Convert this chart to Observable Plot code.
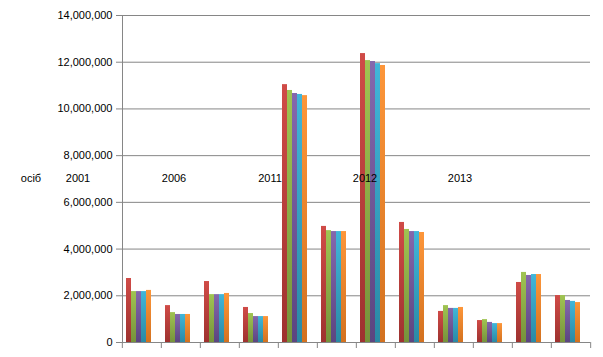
<!DOCTYPE html>
<html>
<head>
<meta charset="utf-8">
<script src="https://cdn.jsdelivr.net/npm/d3@7"></script>
<script src="https://cdn.jsdelivr.net/npm/@observablehq/plot@0.6"></script>
<style>
  html, body { margin: 0; padding: 0; background: #fff; }
  #wrap { position: relative; width: 603px; height: 357px; font-family: "Liberation Sans", Arial, sans-serif; }
  #labels span { position: absolute; top: 172px; font-size: 11px; color: #000; transform: translateX(-50%); white-space: nowrap; }
</style>
</head>
<body>
<div id="wrap"><div id="chart"></div><div id="labels"></div></div>
<script>
// Categories (12 groups, unlabeled on the axis)
const groups = ["1","2","3","4","5","6","7","8","9","10","11","12"];
// Series names
const seriesNames = ["Ряд 1","Ряд 2","Ряд 3","Ряд 4","Ряд 5"];
// Series values (persons)
const s1 = [2740000, 1580000, 2610000, 1500000, 11040000, 4970000, 12370000, 5140000, 1330000, 940000, 2570000, 2010000];
const s2 = [2180000, 1280000, 2050000, 1240000, 10790000, 4790000, 12070000, 4840000, 1580000, 980000, 3000000, 2010000];
const s3 = [2180000, 1200000, 2050000, 1110000, 10660000, 4750000, 12030000, 4750000, 1460000, 860000, 2870000, 1800000];
const s4 = [2180000, 1200000, 2050000, 1110000, 10620000, 4750000, 11940000, 4750000, 1460000, 810000, 2910000, 1760000];
const s5 = [2230000, 1200000, 2100000, 1110000, 10570000, 4750000, 11860000, 4710000, 1500000, 810000, 2910000, 1710000];
// Y tick values
const yTicks = [0, 2000000, 4000000, 6000000, 8000000, 10000000, 12000000, 14000000];
// Header text labels in the plot
const headerLabels = ["осіб", "2001", "2006", "2011", "2012", "2013"];

const seriesValues = [s1, s2, s3, s4, s5];
const data = [];
groups.forEach((g, i) => seriesValues.forEach((vals, j) => data.push({group: g, series: seriesNames[j], value: vals[i]})));

const gradients = [
  ["#d04b47", "#9e322f"],
  ["#a0c452", "#76923b"],
  ["#8568ad", "#5b4580"],
  ["#41b6d9", "#2a89a4"],
  ["#fd963a", "#d3711f"]
];
const fillIds = seriesNames.map((_, i) => `url(#grad${i})`);

const W = 603, H = 357, mL = 120, mR = 11, mT = 15, mB = 15;
const step = (W - mL - mR) / groups.length;
const grey = "#868686";

const chart = Plot.plot({
  width: W, height: H,
  marginLeft: mL, marginRight: mR, marginTop: mT, marginBottom: mB,
  style: {fontFamily: "'Liberation Sans', Arial, sans-serif", fontSize: "11px", color: "#000", background: "#fff", overflow: "visible"},
  fx: {domain: groups, paddingInner: 0, paddingOuter: 0, label: null},
  x: {domain: seriesNames, paddingInner: 0, paddingOuter: 1.21, align: 0.3, axis: null},
  y: {domain: [0, 14000000], label: null},
  color: {type: "ordinal", domain: seriesNames, range: fillIds},
  marks: [
    Plot.gridY(yTicks, {stroke: grey, strokeOpacity: 1, strokeWidth: 1}),
    Plot.barY(data, {fx: "group", x: "series", y: "value", fill: "series"}),
    Plot.ruleY([0], {stroke: grey, strokeWidth: 1}),
    Plot.axisY(yTicks, {tickFormat: d3.format(","), tickSize: 6, tickPadding: 4, stroke: grey, label: null, fill: "#000"}),
    Plot.frame({anchor: "left", stroke: grey, facetAnchor: "left"}),
    Plot.axisFx({anchor: "bottom", tickFormat: () => "", tickSize: 6, dx: -step / 2, stroke: grey, label: null}),
    Plot.axisFx({anchor: "bottom", ticks: [groups[groups.length - 1]], tickFormat: () => "", tickSize: 6, dx: step / 2, stroke: grey, label: null})
  ]
});

const svg = d3.select(chart);
const defs = svg.insert("defs", ":first-child");
gradients.forEach(([top, bottom], i) => {
  const lg = defs.append("linearGradient").attr("id", `grad${i}`).attr("x1", 0).attr("y1", 0).attr("x2", 0).attr("y2", 1);
  lg.append("stop").attr("offset", "0%").attr("stop-color", top);
  lg.append("stop").attr("offset", "100%").attr("stop-color", bottom);
});
document.getElementById("chart").appendChild(chart);

const labelX = [31, 78, 174, 270, 365, 460];
const lab = document.getElementById("labels");
headerLabels.forEach((t, i) => {
  const s = document.createElement("span");
  s.textContent = t;
  s.style.left = labelX[i] + "px";
  lab.appendChild(s);
});
</script>
</body>
</html>
